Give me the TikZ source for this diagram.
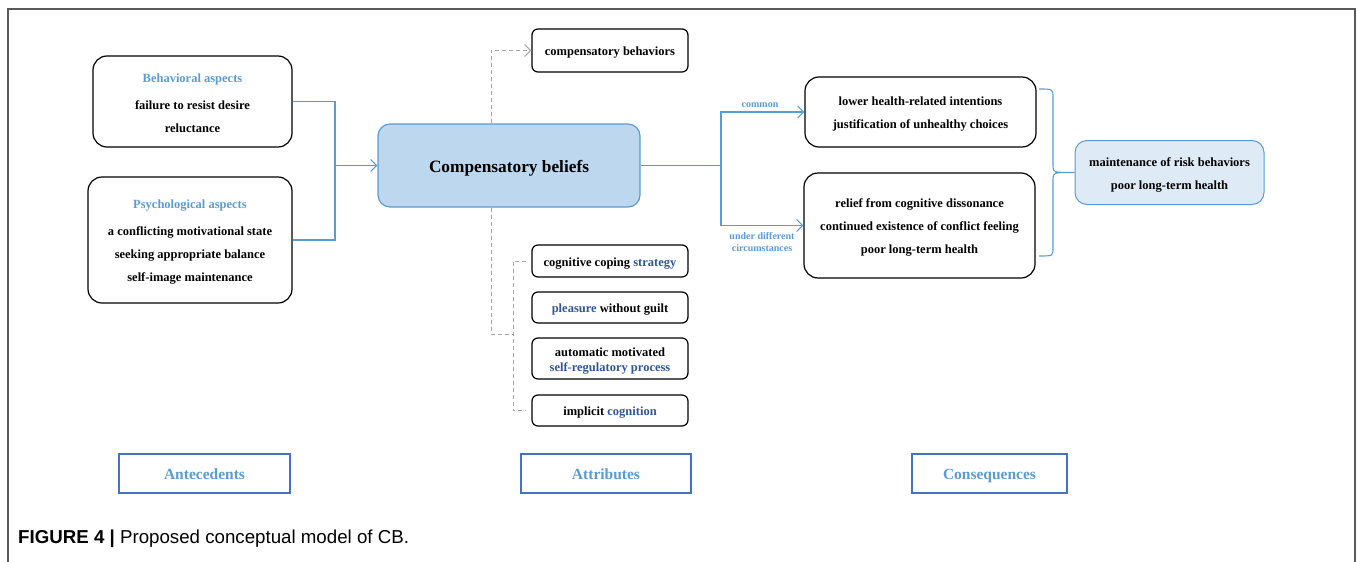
\documentclass[tikz,border=0pt]{standalone}
\usepackage{fontspec}
\setmainfont{Liberation Serif}
\newfontfamily\capfont{Liberation Sans}
\usetikzlibrary{arrows.meta,calc}

\definecolor{lineblue}{RGB}{91,155,213}
\definecolor{cbfill}{RGB}{189,215,238}
\definecolor{resfill}{RGB}{222,235,247}
\definecolor{tagblue}{RGB}{68,114,196}
\definecolor{wordblue}{RGB}{47,85,151}
\definecolor{dashgray}{RGB}{166,166,166}
\definecolor{framegray}{RGB}{89,89,89}

\newcommand{\headw}[1]{\textcolor{lineblue}{#1}}
\newcommand{\bluew}[1]{\textcolor{wordblue}{#1}}
\newcommand{\topstrut}{\rule{0pt}{1.05em}}

\begin{document}
\begin{tikzpicture}[x=1pt,y=-1pt,
    box/.style={draw=black,line width=1.2pt,rounded corners=14pt,align=center,
      inner sep=0pt,font=\bfseries\fontsize{12.5}{23}\selectfont},
    attrbox/.style={box,rounded corners=6pt,minimum width=156pt},
    cbbox/.style={box,draw=lineblue,fill=cbfill,rounded corners=12pt,
      font=\bfseries\fontsize{17.3}{20}\selectfont},
    resbox/.style={box,draw=lineblue,fill=resfill,line width=1pt,rounded corners=12pt},
    tagbox/.style={draw=tagblue,line width=1.2pt,inner sep=0pt,minimum height=39pt,
      text height=14.5pt,text depth=3.5pt,
      text=lineblue,font=\bfseries\fontsize{15.5}{18}\selectfont},
    link/.style={draw=lineblue,line width=1.1pt},
    tip/.style={-{Straight Barb[length=6pt,width=12pt,line width=1.1pt]}},
    dashlink/.style={draw=dashgray,line width=1pt,dash pattern=on 4pt off 3pt},
    tag/.style={text=lineblue,align=center,font=\bfseries\fontsize{10}{12.5}\selectfont}]
  \useasboundingbox (0,0) rectangle (1357,562);
  % Draw the frame
  \draw[framegray,line width=1.3pt] (8,562) -- (8,9) -- (1355,9) -- (1355,562);
  % Draw the antecedents
  \node[box,minimum width=199pt,minimum height=91pt] (beh) at (192.5,101.5)
    {\topstrut\headw{Behavioral aspects}\\[4pt] failure to resist desire\\ reluctance};
  \node[box,minimum width=204pt,minimum height=126pt] (psy) at (190,240)
    {\topstrut\headw{Psychological aspects}\\[4pt] a conflicting motivational state\\
     seeking appropriate balance\\ self-image maintenance};
  % Draw the central concept
  \node[cbbox,minimum width=262pt,minimum height=83pt] (cb) at (509,165.5)
    {\topstrut Compensatory beliefs};
  % Draw the attributes
  \node[attrbox,minimum height=43pt] (cbeh) at (610,50.5) {\topstrut compensatory behaviors};
  \node[attrbox,minimum height=32pt] (at1) at (610,261) {\topstrut cognitive coping \bluew{strategy}};
  \node[attrbox,minimum height=31pt] (at2) at (610,307.5) {\topstrut\bluew{pleasure} without guilt};
  \node[attrbox,minimum height=41pt,font=\bfseries\fontsize{12.5}{15}\selectfont] (at3)
    at (610,358.5) {\topstrut automatic motivated\\ \bluew{self-regulatory process}};
  \node[attrbox,minimum height=31pt] (at4) at (610,410.5) {\topstrut implicit \bluew{cognition}};
  % Draw the consequences
  \node[box,minimum width=231pt,minimum height=70pt] (con1) at (920.5,112)
    {\topstrut lower health-related intentions\\ justification of unhealthy choices};
  \node[box,minimum width=231pt,minimum height=105pt] (con2) at (919.5,225.5)
    {\topstrut relief from cognitive dissonance\\ continued existence of conflict feeling\\
     poor long-term health};
  \node[resbox,minimum width=189pt,minimum height=64pt] (res) at (1169.5,172.5)
    {\topstrut maintenance of risk behaviors\\ poor long-term health};
  % Draw the headers
  \node[tagbox,minimum width=171pt] (ante) at (204.5,473.5) {Antecedents};
  \node[tagbox,minimum width=170pt] (attr) at (606,473.5) {Attributes};
  \node[tagbox,minimum width=155pt] (cons) at (989.5,473.5) {Consequences};
  % Draw the connectors
  \coordinate (join) at (335,165.5);
  \coordinate (split) at (721,165.5);
  \draw[link] (beh.east) -| (join);
  \draw[link] (psy.east) -| (join);
  \draw[link,tip] (join) -- (cb.west);
  \draw[link] (cb.east) -- (split);
  \draw[link,tip] (split) |- (con1.west);
  \draw[link,tip] (split) |- (con2.west);
  \node[tag] (common) at (760,102) {\topstrut common};
  \node[tag] (diff) at (762,240.5) {\topstrut under different\\ circumstances};
  % Draw the dashed links
  \coordinate (up) at (491,50.5);
  \coordinate (btip) at (513,334);
  \draw[dashlink,tip] (cb.north -| up) |- (cbeh.west);
  \draw[dashlink] (cb.south -| up) |- (btip);
  \draw[dashlink] ([xshift=-5pt]at1.west) -- (btip |- at1.west) -- (btip |- at4.west)
    -- ([xshift=-5pt]at4.west);
  % Draw the brace
  \draw[link] (1039,89) .. controls (1053,89) .. (1053,98) -- (1053,166)
    .. controls (1053,172.5) .. (res.west) .. controls (1053,172.5) .. (1053,179)
    -- (1053,248) .. controls (1053,256) .. (1039,256);
  % Draw the caption
  \node[anchor=west,inner sep=0pt,font=\capfont\fontsize{18.7}{20}\selectfont] (cap)
    at (18,539) {\textbf{FIGURE 4 |} Proposed conceptual model of CB.};
\end{tikzpicture}
\end{document}
